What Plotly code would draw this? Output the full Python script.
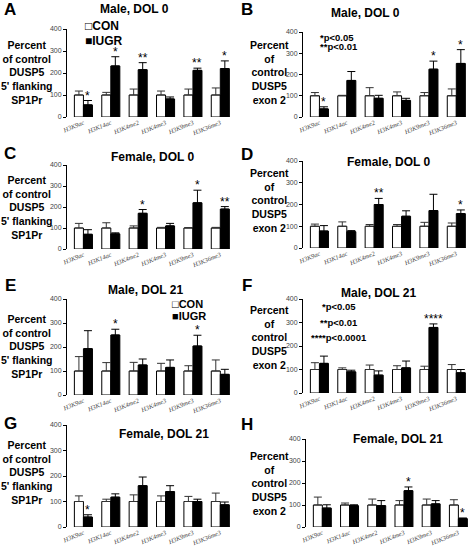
import plotly.graph_objects as go

categories = ["H3K9ac", "H3K14ac", "H3K4me2", "H3K4me3", "H3K9me3", "H3K36me3"]
y_ticks = [0, 100, 200, 300, 400]

# Panel A: Male, DOL 0, 5' flanking SP1Pr
con_A = [100, 100, 100, 100, 100, 100]
con_err_A = [18, 12, 27, 18, 27, 32]
iugr_A = [55, 232, 215, 82, 212, 220]
iugr_err_A = [20, 42, 32, 9, 10, 35]
stars_A = ["*", "*", "**", "", "**", "*"]

# Panel B: Male, DOL 0, exon 2
con_B = [100, 100, 100, 100, 100, 100]
con_err_B = [15, 2, 38, 18, 15, 32]
iugr_B = [38, 172, 88, 78, 225, 252]
iugr_err_B = [10, 42, 14, 10, 38, 65]
stars_B = ["*", "", "", "", "*", "*"]

# Panel C: Female, DOL 0, 5' flanking SP1Pr
con_C = [100, 100, 100, 100, 100, 100]
con_err_C = [22, 25, 10, 3, 2, 3]
iugr_C = [70, 72, 170, 110, 220, 190]
iugr_err_C = [22, 5, 18, 12, 60, 12]
stars_C = ["", "", "*", "", "*", "**"]

# Panel D: Female, DOL 0, exon 2
con_D = [100, 100, 100, 100, 100, 100]
con_err_D = [10, 20, 8, 8, 18, 15]
iugr_D = [78, 75, 200, 146, 172, 158]
iugr_err_D = [25, 5, 28, 25, 75, 17]
stars_D = ["", "", "**", "", "", "*"]

# Panel E: Male, DOL 21, 5' flanking SP1Pr
con_E = [100, 100, 100, 100, 100, 100]
con_err_E = [60, 35, 36, 32, 22, 46]
iugr_E = [193, 250, 125, 115, 204, 86]
iugr_err_E = [75, 24, 25, 31, 45, 21]
stars_E = ["", "*", "", "", "*", ""]

# Panel F: Male, DOL 21, exon 2
con_F = [100, 100, 100, 100, 100, 100]
con_err_F = [29, 7, 19, 16, 14, 21]
iugr_F = [126, 90, 76, 107, 279, 86]
iugr_err_F = [31, 7, 18, 29, 15, 14]
stars_F = ["", "", "", "", "****", ""]

# Panel G: Female, DOL 21, 5' flanking SP1Pr
con_G = [100, 100, 100, 100, 100, 100]
con_err_G = [22, 9, 26, 22, 20, 33]
iugr_G = [39, 117, 162, 139, 100, 87]
iugr_err_G = [9, 13, 34, 23, 9, 11]
stars_G = ["*", "", "", "", "", ""]

# Panel H: Female, DOL 21, exon 2
con_H = [100, 100, 100, 100, 100, 100]
con_err_H = [36, 9, 27, 20, 27, 24]
iugr_H = [86, 97, 97, 165, 105, 38]
iugr_err_H = [15, 4, 23, 17, 15, 3]
stars_H = ["", "", "", "*", "", "*"]

titles = {"A": "Male, DOL 0", "B": "Male, DOL 0", "C": "Female, DOL 0", "D": "Female, DOL 0",
          "E": "Male, DOL 21", "F": "Male, DOL 21", "G": "Female, DOL 21", "H": "Female, DOL 21"}
ylabel_left = "Percent<br>of control<br>DUSP5<br>5' flanking<br>SP1Pr"
ylabel_right = "Percent<br>of<br>control<br>DUSP5<br>exon 2"

W, H = 472, 549
def px(x):
    return x / W
def py(y):
    return 1 - y / H

panels = [
    dict(k="A", con=con_A, ce=con_err_A, iu=iugr_A, ie=iugr_err_A, st=stars_A,
         dom=(67, 234, 29, 117), let=(10, 10), tit=(134, 9), yl=(27, 73), ylab=ylabel_left),
    dict(k="B", con=con_B, ce=con_err_B, iu=iugr_B, ie=iugr_err_B, st=stars_B,
         dom=(303, 470, 32, 117), let=(247, 10), tit=(365, 13), yl=(269, 73), ylab=ylabel_right),
    dict(k="C", con=con_C, ce=con_err_C, iu=iugr_C, ie=iugr_err_C, st=stars_C,
         dom=(67, 234, 165, 249), let=(10, 153), tit=(152, 157), yl=(27, 207), ylab=ylabel_left),
    dict(k="D", con=con_D, ce=con_err_D, iu=iugr_D, ie=iugr_err_D, st=stars_D,
         dom=(303, 470, 161, 248), let=(247, 154), tit=(388, 162), yl=(269, 200), ylab=ylabel_right),
    dict(k="E", con=con_E, ce=con_err_E, iu=iugr_E, ie=iugr_err_E, st=stars_E,
         dom=(67, 234, 299, 395), let=(10, 285), tit=(145, 290), yl=(27, 346), ylab=ylabel_left),
    dict(k="F", con=con_F, ce=con_err_F, iu=iugr_F, ie=iugr_err_F, st=stars_F,
         dom=(303, 470, 299, 393), let=(247, 285), tit=(378, 293), yl=(269, 337), ylab=ylabel_right),
    dict(k="G", con=con_G, ce=con_err_G, iu=iugr_G, ie=iugr_err_G, st=stars_G,
         dom=(67, 234, 425, 527), let=(10, 423), tit=(164, 434), yl=(27, 472), ylab=ylabel_left),
    dict(k="H", con=con_H, ce=con_err_H, iu=iugr_H, ie=iugr_err_H, st=stars_H,
         dom=(306, 472, 439, 527), let=(247, 424), tit=(398, 439), yl=(269, 483), ylab=ylabel_right),
]

FONT = "Arial, Liberation Sans, sans-serif"
fig = go.Figure()
layout = dict(
    width=W, height=H, margin=dict(l=0, r=0, t=0, b=0, pad=0, autoexpand=False),
    paper_bgcolor="white", plot_bgcolor="white",
    barmode="group", bargap=0.34, bargroupgap=0,
    showlegend=False, font=dict(family=FONT, color="black"),
)
annotations = []
zeros = [0] * len(categories)

def paper_text(x, y, text, size, xanchor="center", align="center"):
    return dict(x=px(x), y=py(y), xref="paper", yref="paper", text=text, showarrow=False,
                xanchor=xanchor, yanchor="middle", align=align,
                font=dict(family=FONT, size=size, color="black"))

for i, p in enumerate(panels):
    n = "" if i == 0 else str(i + 1)
    xa, ya = "x" + n, "y" + n
    fig.add_trace(go.Bar(
        x=categories, y=p["con"], xaxis=xa, yaxis=ya, name="CON",
        marker=dict(color="white", line=dict(color="black", width=1)),
        error_y=dict(type="data", array=p["ce"], arrayminus=zeros, symmetric=False,
                     color="#333", thickness=1, width=4),
    ))
    fig.add_trace(go.Bar(
        x=categories, y=p["iu"], xaxis=xa, yaxis=ya, name="IUGR",
        marker=dict(color="black", line=dict(color="black", width=1)),
        error_y=dict(type="data", array=p["ie"], arrayminus=zeros, symmetric=False,
                     color="black", thickness=1, width=4),
    ))
    x0, x1, yt, yb = p["dom"]
    layout["xaxis" + n] = dict(
        domain=[px(x0), px(x1)], anchor=ya, range=[-0.6, 5.5], automargin=False,
        showline=False, showgrid=False, zeroline=False, ticks="",
        tickangle=-22, tickfont=dict(family="Liberation Serif, Times New Roman, serif",
                                     size=6.5, color="#444", style="italic"),
    )
    layout["yaxis" + n] = dict(
        domain=[py(yb), py(yt)], anchor=xa, range=[0, 400], tickvals=y_ticks, automargin=False,
        showline=True, linecolor="black", linewidth=1, showgrid=False, zeroline=False,
        ticks="outside", ticklen=3, tickwidth=1, tickcolor="black",
        tickfont=dict(family=FONT, size=7, color="#444"),
    )
    for j, s in enumerate(p["st"]):
        if s:
            annotations.append(dict(
                x=j + 0.165, y=p["iu"][j] + p["ie"][j], xref=xa, yref=ya,
                text=s, showarrow=False, xanchor="center", yanchor="bottom", yshift=-4,
                font=dict(family=FONT, size=12, color="black"),
            ))
    annotations.append(paper_text(p["let"][0], p["let"][1], "<b>%s</b>" % p["k"], 17))
    annotations.append(paper_text(p["tit"][0], p["tit"][1], "<b>%s</b>" % titles[p["k"]], 12))
    annotations.append(paper_text(p["yl"][0], p["yl"][1], "<b>%s</b>" % p["ylab"], 10.5))

for (lx, ly1, ly2, sz) in [(83, 26, 41, 12), (170, 304, 316, 11)]:
    annotations.append(paper_text(lx, ly1, "<b>□CON</b>", sz, xanchor="left"))
    annotations.append(paper_text(lx, ly2, "<b>■IUGR</b>", sz, xanchor="left"))

for (tx, ty) in [("*p<0.05", 37), ("**p<0.01", 47)]:
    annotations.append(paper_text(318, ty, "<b>%s</b>" % tx, 9.5, xanchor="left"))
for (tx, ty) in [("*p<0.05", 306), ("**p<0.01", 322), ("****p<0.0001", 337)]:
    annotations.append(paper_text(339, ty, "<b>%s</b>" % tx, 9.5))

layout["annotations"] = annotations
fig.update_layout(**layout)
fig.write_html("out.html", config={"displayModeBar": False, "staticPlot": True},
               post_script="document.body.style.margin='0';document.body.style.overflow='hidden';")
